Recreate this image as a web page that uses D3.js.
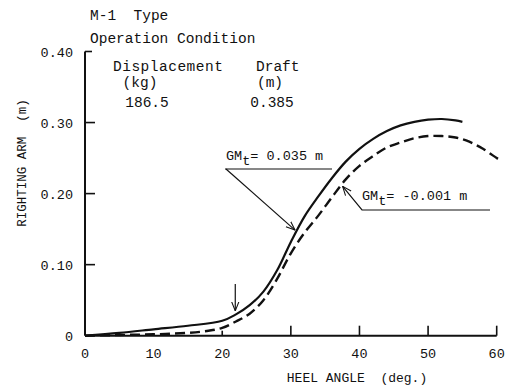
<!DOCTYPE html>
<html>
<head>
<meta charset="utf-8">
<script src="https://cdn.jsdelivr.net/npm/d3@7"></script>
<style>
  body { margin: 0; background: #fff; }
  text { font-family: "Liberation Mono", "DejaVu Sans Mono", monospace; fill: #111; }
</style>
</head>
<body>
<script>
// heel angle (deg) and righting arm (m)
var solidAngle = [0, 5, 10, 15, 20, 22, 24, 26, 28, 30, 32, 34, 36, 38, 40, 42, 44, 46, 48, 50, 52, 54, 55];
var solidArm   = [0, 0.004, 0.009, 0.014, 0.021, 0.030, 0.043, 0.062, 0.092, 0.132, 0.168, 0.196, 0.222, 0.245, 0.263, 0.277, 0.288, 0.296, 0.301, 0.304, 0.305, 0.303, 0.301];
var dashAngle  = [0, 5, 10, 15, 18, 20, 22, 24, 26, 28, 30, 32, 34, 36, 38, 40, 42, 44, 46, 48, 50, 52, 54, 56, 58, 60, 60.5];
var dashArm    = [0, 0.001, 0.002, 0.004, 0.007, 0.011, 0.020, 0.031, 0.050, 0.080, 0.116, 0.145, 0.169, 0.195, 0.220, 0.239, 0.253, 0.265, 0.272, 0.278, 0.281, 0.281, 0.279, 0.273, 0.263, 0.250, 0.247];
var xTicks = [0, 10, 20, 30, 40, 50, 60];
var yTicks = [0, 0.10, 0.20, 0.30, 0.40];
var yTickLabels = ["0", "0.10", "0.20", "0.30", "0.40"];

var width = 519, height = 387;

var svg = d3.select("body").append("svg")
    .attr("width", width)
    .attr("height", height);

var x = d3.scaleLinear().domain([0, 60]).range([85, 496.7]);
var y = d3.scaleLinear().domain([0, 0.4]).range([335.7, 51.5]);

// arrow head
svg.append("defs").append("marker")
    .attr("id", "arr")
    .attr("viewBox", "0 0 10 10")
    .attr("refX", 10).attr("refY", 5)
    .attr("markerWidth", 9).attr("markerHeight", 9)
    .attr("markerUnits", "userSpaceOnUse")
    .attr("orient", "auto")
    .append("path")
    .attr("d", "M0,1 L10,5 L0,9")
    .attr("fill", "none")
    .attr("stroke", "#111")
    .attr("stroke-width", 1.2);

// axes
svg.append("line")
    .attr("x1", x(0)).attr("x2", x(0))
    .attr("y1", y(0.4)).attr("y2", y(0))
    .attr("stroke", "#111").attr("stroke-width", 2);
svg.append("line")
    .attr("x1", x(0)).attr("x2", x(60))
    .attr("y1", y(0)).attr("y2", y(0))
    .attr("stroke", "#111").attr("stroke-width", 2);

// y ticks (inward)
svg.selectAll(".ytick").data(yTicks.slice(1)).enter().append("line")
    .attr("x1", x(0))
    .attr("x2", function (d) { return d == 0.4 ? x(0) + 7 : x(0) + 10; })
    .attr("y1", function (d) { return y(d); })
    .attr("y2", function (d) { return y(d); })
    .attr("stroke", "#111").attr("stroke-width", 1.6);

svg.selectAll(".ylab").data(yTicks).enter().append("text")
    .attr("x", 73)
    .attr("y", function (d) { return y(d) + 5; })
    .attr("text-anchor", "end")
    .attr("font-size", 13.5)
    .text(function (d, i) { return yTickLabels[i]; });

// x ticks (inward)
svg.selectAll(".xtick").data(xTicks.filter(function (d) { return d >= 20; })).enter().append("line")
    .attr("x1", function (d) { return x(d); })
    .attr("x2", function (d) { return x(d); })
    .attr("y1", y(0))
    .attr("y2", function (d) { return d == 20 ? y(0) - 5 : y(0) - 10; })
    .attr("stroke", "#111").attr("stroke-width", 1.6);

svg.selectAll(".xlab").data(xTicks).enter().append("text")
    .attr("x", function (d) { return x(d); })
    .attr("y", 358)
    .attr("text-anchor", "middle")
    .attr("font-size", 13.5)
    .text(function (d) { return d; });

// axis titles
svg.append("text")
    .attr("x", 357).attr("y", 382)
    .attr("text-anchor", "middle")
    .attr("font-size", 13)
    .attr("xml:space", "preserve")
    .text("HEEL ANGLE  (deg.)");

svg.append("text")
    .attr("transform", "translate(26,163) rotate(-90)")
    .attr("text-anchor", "middle")
    .attr("font-size", 12.5)
    .attr("xml:space", "preserve")
    .text("RIGHTING ARM  (m)");

// curves
var line = d3.line()
    .x(function (d) { return x(d[0]); })
    .y(function (d) { return y(d[1]); })
    .curve(d3.curveCatmullRom.alpha(0.5));

svg.append("path")
    .datum(d3.zip(solidAngle, solidArm))
    .attr("fill", "none")
    .attr("stroke", "#111")
    .attr("stroke-width", 2.2)
    .attr("d", line);

svg.append("path")
    .datum(d3.zip(dashAngle, dashArm))
    .attr("fill", "none")
    .attr("stroke", "#111")
    .attr("stroke-width", 2.4)
    .attr("stroke-dasharray", "10,5")
    .attr("d", line);

// header text
svg.append("text").attr("x", 90).attr("y", 20).attr("font-size", 14.5)
    .attr("xml:space", "preserve").text("M-1  Type");
svg.append("text").attr("x", 90).attr("y", 43).attr("font-size", 14.5)
    .text("Operation Condition");
svg.append("text").attr("x", 113).attr("y", 71).attr("font-size", 14.5)
    .attr("letter-spacing", 0.5).text("Displacement");
svg.append("text").attr("x", 140).attr("y", 87).attr("font-size", 14.5)
    .attr("text-anchor", "middle").text("(kg)");
svg.append("text").attr("x", 147).attr("y", 107).attr("font-size", 14.5)
    .attr("text-anchor", "middle").text("186.5");
svg.append("text").attr("x", 256).attr("y", 71).attr("font-size", 14.5)
    .text("Draft");
svg.append("text").attr("x", 270).attr("y", 87).attr("font-size", 14.5)
    .attr("text-anchor", "middle").text("(m)");
svg.append("text").attr("x", 272).attr("y", 107).attr("font-size", 14.5)
    .attr("text-anchor", "middle").text("0.385");

// GM labels
function gmLabel(tx, ty, val) {
    var t = svg.append("text").attr("x", tx).attr("y", ty).attr("font-size", 13.5)
        .attr("xml:space", "preserve");
    t.append("tspan").text("GM");
    t.append("tspan").attr("dy", 5).text("t");
    t.append("tspan").attr("dy", -5).text("= " + val + " m");
}
gmLabel(226, 160, "0.035");
gmLabel(362, 200, "-0.001");

// leader for solid curve
svg.append("line")
    .attr("x1", 225).attr("x2", 332).attr("y1", 169).attr("y2", 169)
    .attr("stroke", "#111").attr("stroke-width", 1.2);
svg.append("line")
    .attr("x1", 226).attr("y1", 169)
    .attr("x2", x(30.9) - 2).attr("y2", y(0.150) + 1)
    .attr("stroke", "#111").attr("stroke-width", 1.2)
    .attr("marker-end", "url(#arr)");

// leader for dashed curve
svg.append("polyline")
    .attr("points", [[490, 210], [362, 210], [x(37.4) + 1, y(0.213) + 2]].join(" "))
    .attr("fill", "none")
    .attr("stroke", "#111").attr("stroke-width", 1.2)
    .attr("marker-end", "url(#arr)");

// down arrow near 22 deg
svg.append("line")
    .attr("x1", x(21.9)).attr("x2", x(21.9))
    .attr("y1", 284).attr("y2", y(0.035))
    .attr("stroke", "#111").attr("stroke-width", 1.2)
    .attr("marker-end", "url(#arr)");
</script>
</body>
</html>
